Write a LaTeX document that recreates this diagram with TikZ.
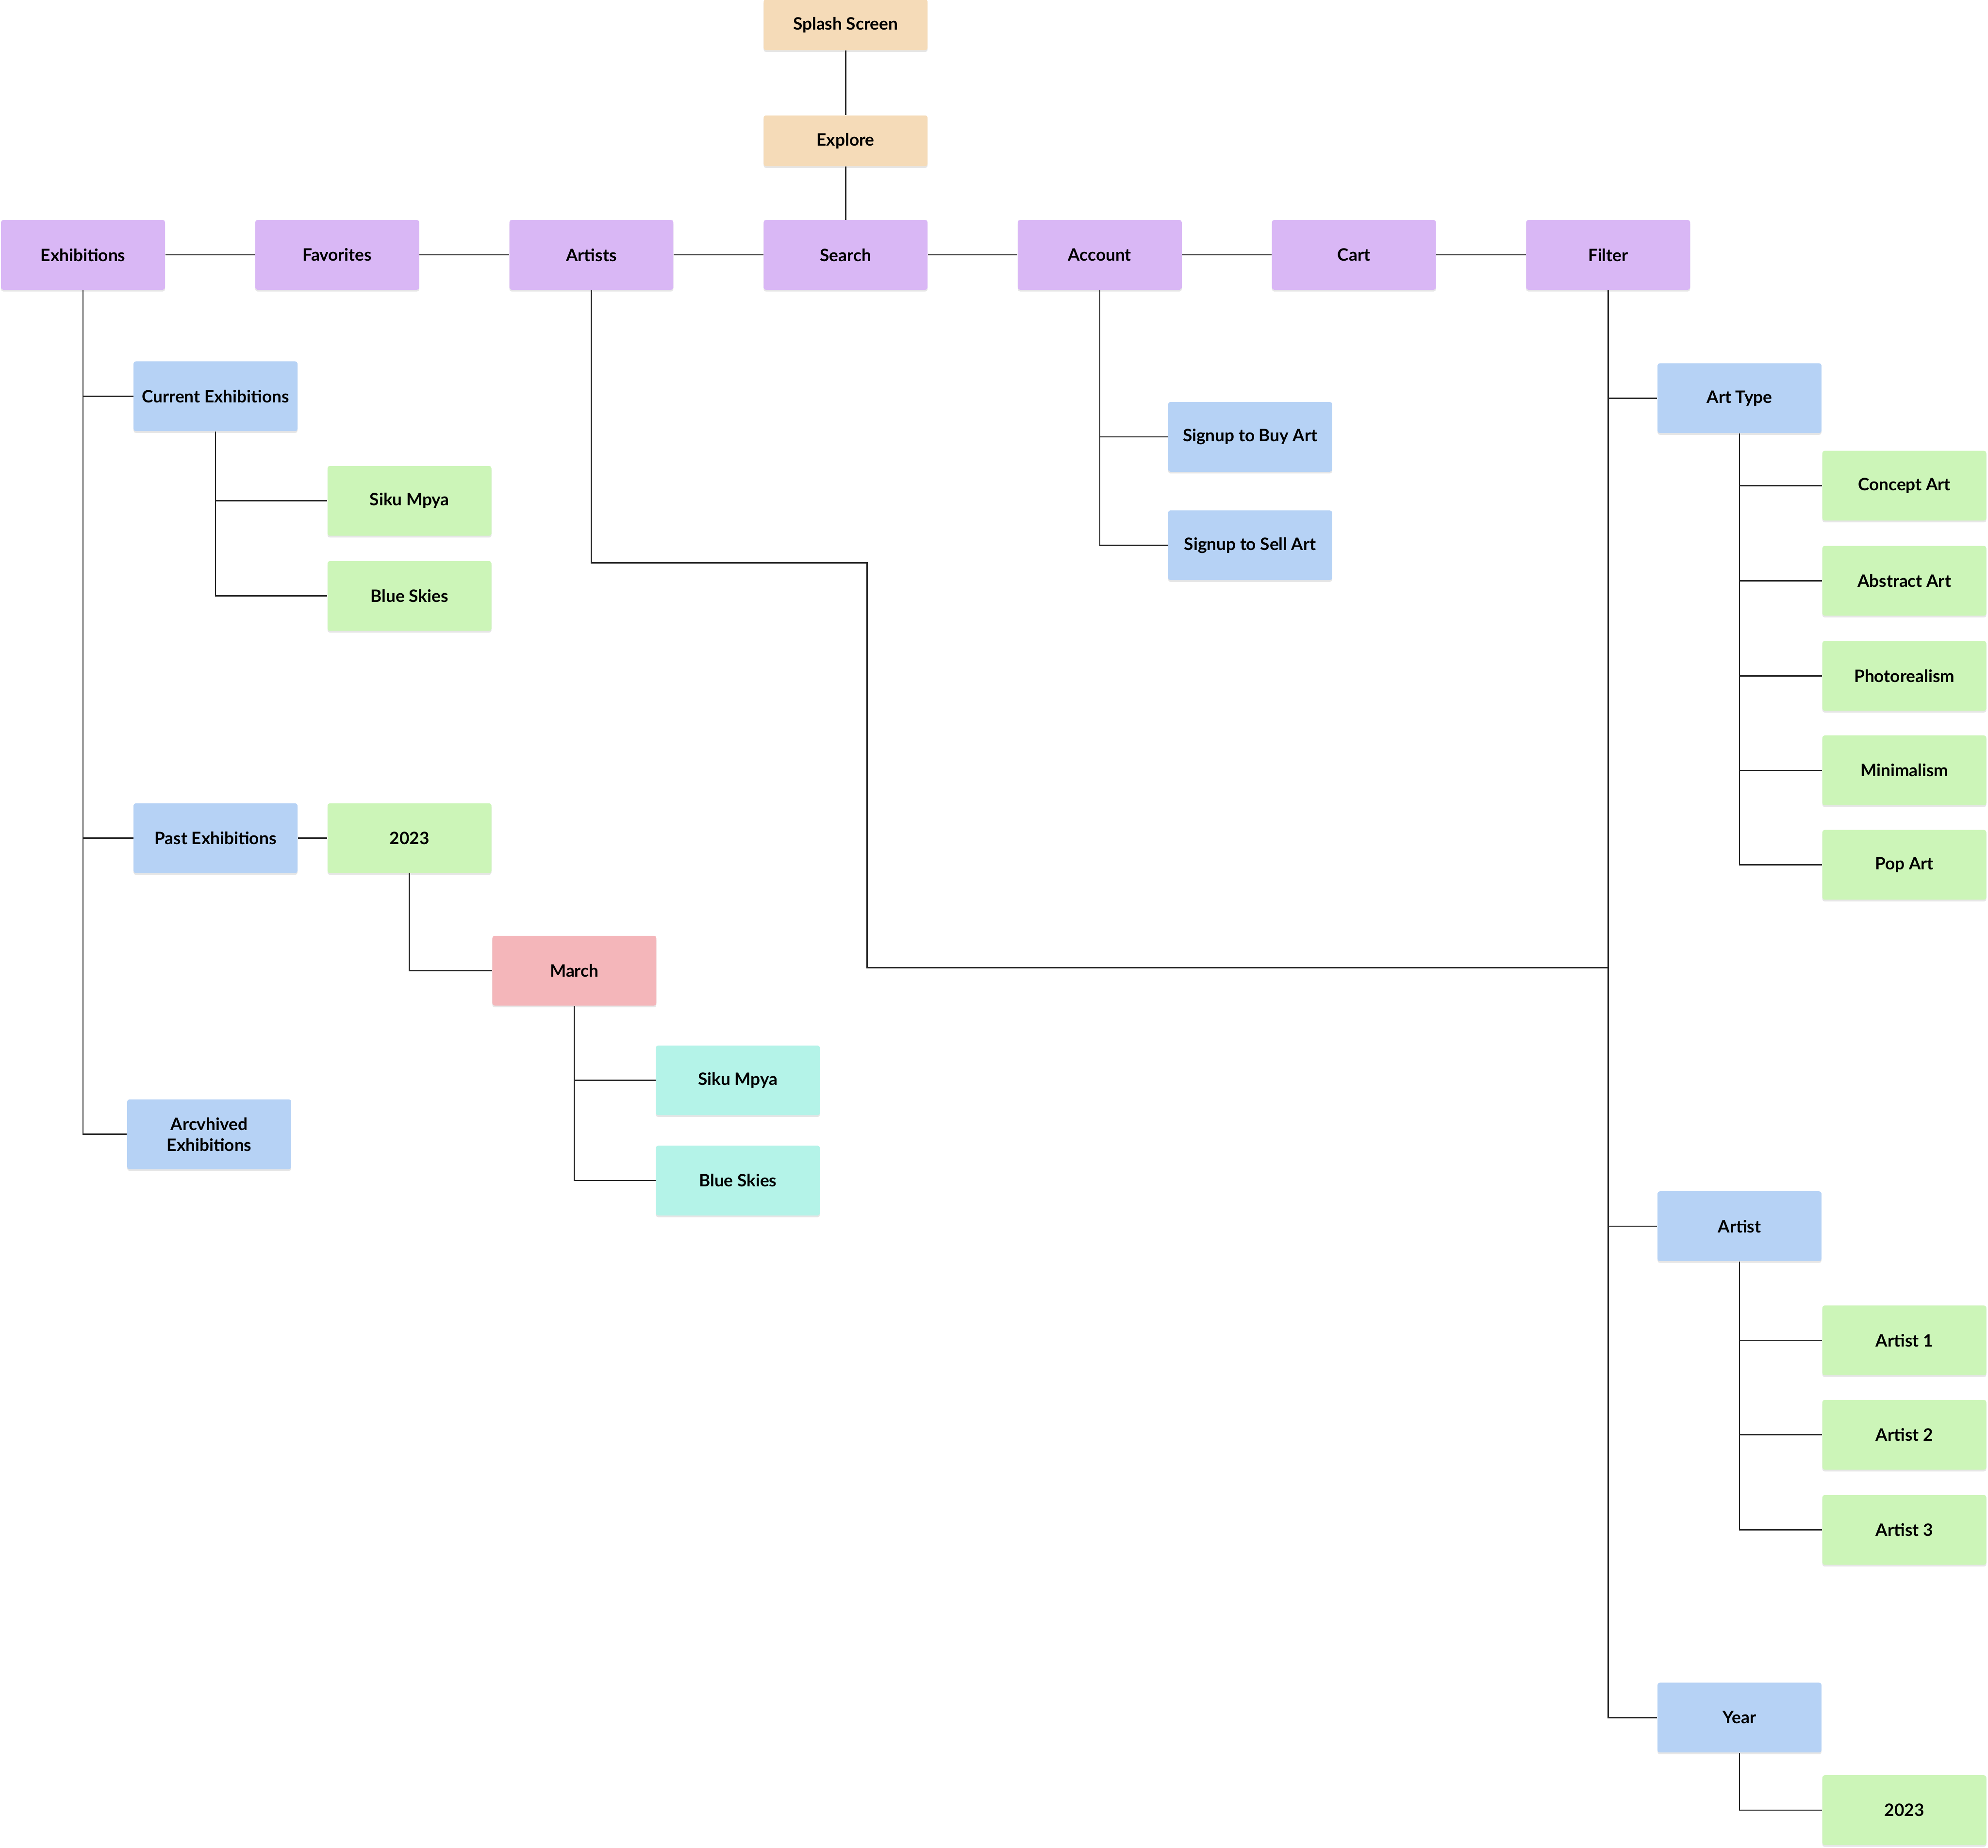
\documentclass[tikz,border=0pt]{standalone}
\usepackage{fontspec}
\setmainfont{Lato}
\usepackage{xcolor}
\usepackage{tikz}
\usetikzlibrary{positioning, shadows}

\definecolor{startpeach}{HTML}{F5DBB8}
\definecolor{navpurple}{HTML}{D9B7F5}
\definecolor{subblue}{HTML}{B6D2F5}
\definecolor{leafgreen}{HTML}{CCF5B8}
\definecolor{monthpink}{HTML}{F4B6BA}
\definecolor{eventcyan}{HTML}{B4F3E8}

\begin{document}
\begin{tikzpicture}[
    x=0.03cm, y=-0.03cm,
    node distance=2.12cm,
    block/.style={rectangle, rounded corners=1.5pt, minimum width=3.88cm, minimum height=1.65cm, align=center, font=\fontsize{11.5}{14}\selectfont\bfseries, inner sep=2pt, drop shadow={shadow xshift=0pt, shadow yshift=-1.2pt, opacity=0.2}},
    start/.style={block, fill=startpeach, minimum height=1.2cm},
    nav/.style={block, fill=navpurple},
    sub/.style={block, fill=subblue},
    leaf/.style={block, fill=leafgreen},
    month/.style={block, fill=monthpink},
    event/.style={block, fill=eventcyan},
    link/.style={line width=0.9pt, black!85}
]
\useasboundingbox (0,0) rectangle (1568,1457);

% Main navigation
\node (exh) [nav] at (65.5,201) {Exhibitions};
\node (fav) [nav, right=of exh] {Favorites};
\node (artists) [nav, right=of fav] {Artists};
\node (search) [nav, right=of artists] {Search};
\node (account) [nav, right=of search] {Account};
\node (cart) [nav, right=of account] {Cart};
\node (filter) [nav, right=of cart] {Filter};

% Entry screens
\node (explore) [start, above=1.26cm of search] {Explore};
\node (splash) [start, above=1.53cm of explore] {Splash Screen};

% Exhibitions branch
\node (curex) [sub] at (170,312.5) {Current Exhibitions};
\node (siku) [leaf] at (323,395) {Siku Mpya};
\node (blue) [leaf] at (323,470) {Blue Skies};
\node (pastex) [sub] at (170,661) {Past Exhibitions};
\node (past2023) [leaf] at (323,661) {2023};
\node (march) [month] at (453,765.5) {March};
\node (marsiku) [event] at (582,852) {Siku Mpya};
\node (marblue) [event] at (582,931) {Blue Skies};
\node (archex) [sub] at (165,894.5) {Arcvhived\\Exhibitions};

% Account branch
\node (buy) [sub] at (986,344.5) {Signup to Buy Art};
\node (sell) [sub] at (986,430) {Signup to Sell Art};

% Filter branch
\node (arttype) [sub] at (1372,314) {Art Type};
\node (concept) [leaf] at (1502,383) {Concept Art};
\node (abstract) [leaf] at (1502,458) {Abstract Art};
\node (photo) [leaf] at (1502,533) {Photorealism};
\node (minimal) [leaf] at (1502,607.5) {Minimalism};
\node (popart) [leaf] at (1502,682) {Pop Art};
\node (artist) [sub] at (1372,967) {Artist};
\node (artist1) [leaf] at (1502,1057) {Artist 1};
\node (artist2) [leaf] at (1502,1131.5) {Artist 2};
\node (artist3) [leaf] at (1502,1206.5) {Artist 3};
\node (year) [sub] at (1372,1354.5) {Year};
\node (year2023) [leaf] at (1502,1427.5) {2023};

\coordinate (artbend) at (684,444);
\coordinate (artjoin) at (filter |- 0,763);

% Connectors
\draw [link] (splash) -- (explore) -- (search);
\draw [link] (exh) -- (fav) -- (artists) -- (search) -- (account) -- (cart) -- (filter);
\draw [link] (exh) |- (curex);
\draw [link] (exh) |- (pastex);
\draw [link] (exh) |- (archex);
\draw [link] (curex) |- (siku);
\draw [link] (curex) |- (blue);
\draw [link] (pastex) -- (past2023);
\draw [link] (past2023) |- (march);
\draw [link] (march) |- (marsiku);
\draw [link] (march) |- (marblue);
\draw [link] (artists) |- (artbend) |- (artjoin);
\draw [link] (account) |- (buy);
\draw [link] (account) |- (sell);
\draw [link] (filter) |- (arttype);
\draw [link] (filter) |- (artist);
\draw [link] (filter) |- (year);
\foreach \t in {concept, abstract, photo, minimal, popart}
    \draw [link] (arttype) |- (\t);
\foreach \t in {artist1, artist2, artist3}
    \draw [link] (artist) |- (\t);
\draw [link] (year) |- (year2023);

\end{tikzpicture}
\end{document}
